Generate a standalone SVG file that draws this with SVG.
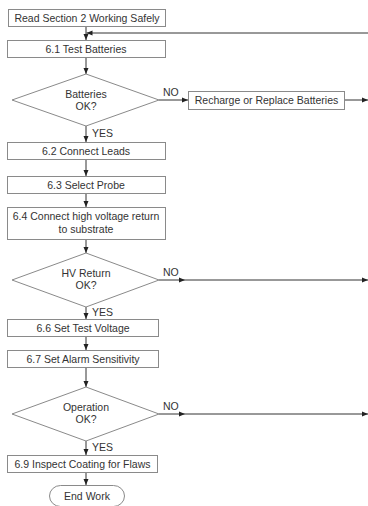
<svg xmlns="http://www.w3.org/2000/svg" width="368" height="506" viewBox="0 0 368 506">
<style>
.box{fill:#fff;stroke:#8a8a8a;stroke-width:1}
.t{font-family:"Liberation Sans",Arial,sans-serif;font-size:10.5px;fill:#333;text-anchor:middle}
.l{font-family:"Liberation Sans",Arial,sans-serif;font-size:10.5px;fill:#333}
.c{fill:none;stroke:#333;stroke-width:1}
</style>
<defs>
<marker id="ah" markerWidth="7" markerHeight="7" refX="6" refY="3.5" orient="auto" markerUnits="userSpaceOnUse">
<path d="M0,1 L6,3.5 L0,6 Z" fill="#222"/>
</marker>
</defs>
<rect width="368" height="506" fill="#fff"/>
<g id="connectors">
<line class="c" x1="86" y1="27" x2="86" y2="40" marker-end="url(#ah)"/>
<line class="c" x1="368" y1="33" x2="86.5" y2="33" marker-end="url(#ah)"/>
<line class="c" x1="86" y1="57" x2="86" y2="74" marker-end="url(#ah)"/>
<line class="c" x1="159" y1="100" x2="188" y2="100" marker-end="url(#ah)"/>
<line class="c" x1="344" y1="100" x2="368" y2="100" marker-end="url(#ah)"/>
<line class="c" x1="86" y1="126" x2="86" y2="142" marker-end="url(#ah)"/>
<line class="c" x1="86" y1="159" x2="86" y2="176" marker-end="url(#ah)"/>
<line class="c" x1="86" y1="193" x2="86" y2="207" marker-end="url(#ah)"/>
<line class="c" x1="86" y1="239" x2="86" y2="253" marker-end="url(#ah)"/>
<line class="c" x1="159" y1="280" x2="185" y2="280" marker-end="url(#ah)"/>
<line class="c" x1="185" y1="280" x2="368" y2="280" marker-end="url(#ah)"/>
<line class="c" x1="86" y1="307" x2="86" y2="319" marker-end="url(#ah)"/>
<line class="c" x1="86" y1="336" x2="86" y2="350" marker-end="url(#ah)"/>
<line class="c" x1="86" y1="367" x2="86" y2="387" marker-end="url(#ah)"/>
<line class="c" x1="159" y1="414" x2="185" y2="414" marker-end="url(#ah)"/>
<line class="c" x1="185" y1="414" x2="368" y2="414" marker-end="url(#ah)"/>
<line class="c" x1="86" y1="441" x2="86" y2="455" marker-end="url(#ah)"/>
<line class="c" x1="86" y1="473" x2="86" y2="485" marker-end="url(#ah)"/>
<text class="l" x="163" y="96">NO</text>
<text class="l" x="92" y="137">YES</text>
<text class="l" x="163" y="276">NO</text>
<text class="l" x="92" y="316">YES</text>
<text class="l" x="163" y="410">NO</text>
<text class="l" x="92" y="451">YES</text>
</g>
<g id="read">
<rect class="box" x="8.5" y="9.5" width="157" height="17"/>
<text class="t" x="87" y="21.5">Read Section 2 Working Safely</text>
</g>
<g id="s61">
<rect class="box" x="7.5" y="40.5" width="158" height="17"/>
<text class="t" x="86" y="52.5">6.1 Test Batteries</text>
</g>
<g id="d-batteries">
<polygon class="box" points="86,74 159,100 86,126 12,100"/>
<text class="t" x="86" y="98">Batteries</text>
<text class="t" x="86" y="109.5">OK?</text>
</g>
<g id="recharge">
<rect class="box" x="188.5" y="91.5" width="156" height="18"/>
<text class="t" x="266.5" y="104">Recharge or Replace Batteries</text>
</g>
<g id="s62">
<rect class="box" x="7.5" y="142.5" width="158" height="17"/>
<text class="t" x="86" y="155">6.2 Connect Leads</text>
</g>
<g id="s63">
<rect class="box" x="7.5" y="176.5" width="158" height="17"/>
<text class="t" x="86" y="189">6.3 Select Probe</text>
</g>
<g id="s64">
<rect class="box" x="7.5" y="207.5" width="158" height="32"/>
<text class="t" x="86" y="220">6.4 Connect high voltage return</text>
<text class="t" x="86" y="233">to substrate</text>
</g>
<g id="d-hv">
<polygon class="box" points="86,253 159,280 86,307 12,280"/>
<text class="t" x="86" y="277">HV Return</text>
<text class="t" x="86" y="289">OK?</text>
</g>
<g id="s66">
<rect class="box" x="7.5" y="319.5" width="151" height="17"/>
<text class="t" x="83" y="332">6.6 Set Test Voltage</text>
</g>
<g id="s67">
<rect class="box" x="7.5" y="350.5" width="151" height="17"/>
<text class="t" x="83" y="363">6.7 Set Alarm Sensitivity</text>
</g>
<g id="d-operation">
<polygon class="box" points="86,387 159,414 86,441 12,414"/>
<text class="t" x="86" y="411">Operation</text>
<text class="t" x="86" y="423">OK?</text>
</g>
<g id="s69">
<rect class="box" x="7.5" y="455.5" width="150" height="17"/>
<text class="t" x="82.5" y="468">6.9 Inspect Coating for Flaws</text>
</g>
<g id="end">
<rect class="box" x="49.5" y="485.5" width="75" height="21" rx="11" ry="10.5"/>
<text class="t" x="87" y="500">End Work</text>
</g>
</svg>
